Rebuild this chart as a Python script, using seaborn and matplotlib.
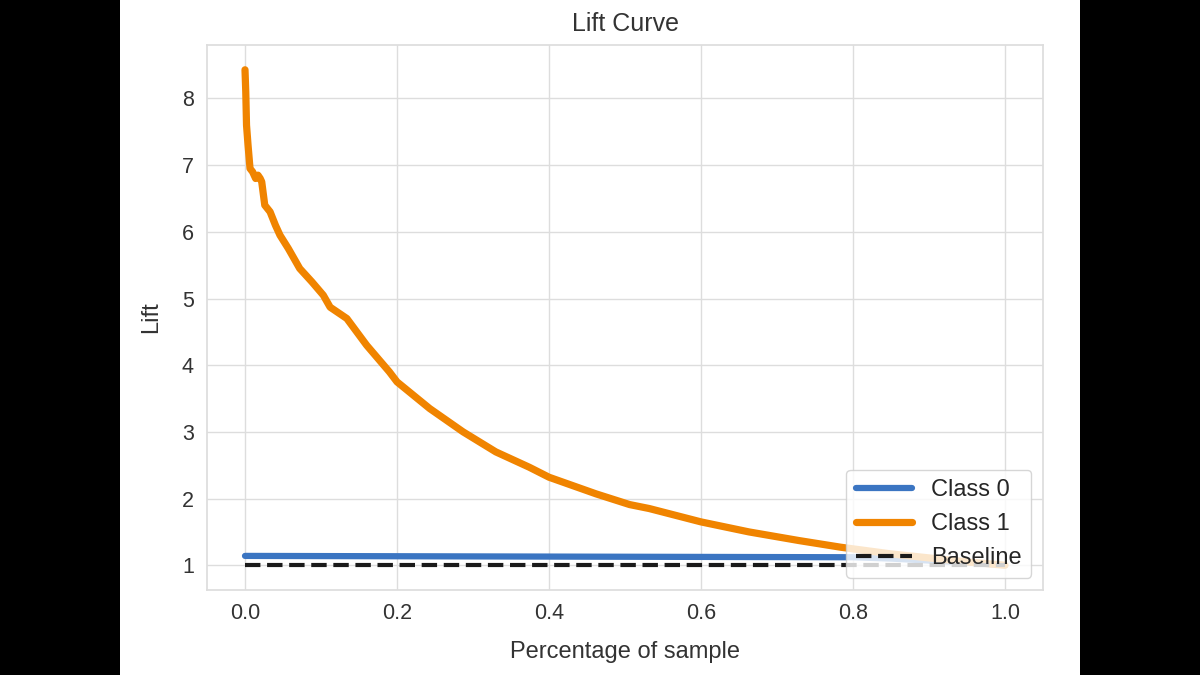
import numpy as np
import pandas as pd
import matplotlib
matplotlib.use("Agg")
import matplotlib.pyplot as plt
from matplotlib.patches import Rectangle
import seaborn as sns

# ------------------ Data ------------------
class1_x = [0.0, 0.001, 0.002, 0.004, 0.0066, 0.01, 0.014, 0.017, 0.02, 0.022,
            0.026, 0.033, 0.04, 0.046, 0.057, 0.072, 0.088, 0.103, 0.112, 0.134,
            0.16, 0.19, 0.2, 0.243, 0.287, 0.33, 0.374, 0.40, 0.462, 0.506,
            0.532, 0.60, 0.663, 0.729, 0.784, 0.85, 0.9, 0.95, 1.0]
class1_lift = [8.43, 8.1, 7.6, 7.3, 6.95, 6.9, 6.8, 6.85, 6.8, 6.75,
               6.4, 6.3, 6.1, 5.95, 5.75, 5.45, 5.25, 5.05, 4.87, 4.70,
               4.30, 3.90, 3.75, 3.35, 3.0, 2.70, 2.47, 2.32, 2.07, 1.91,
               1.85, 1.65, 1.50, 1.37, 1.27, 1.17, 1.11, 1.05, 1.0]

class0_x = [0.0, 0.2, 0.4, 0.6, 0.8, 0.85, 0.9, 0.95, 1.0]
class0_lift = [1.14, 1.135, 1.13, 1.125, 1.12, 1.1, 1.07, 1.04, 1.0]

baseline_x = [0.0, 1.0]
baseline_lift = [1.0, 1.0]

# ------------------ Plot ------------------
sns.set_theme(style="whitegrid", rc={'grid.color': '#dddddd', 'axes.edgecolor': '#dddddd'})
plt.rcParams['font.family'] = ['Liberation Sans', 'DejaVu Sans']

fig = plt.figure(figsize=(12, 6.75), dpi=100)
fig.patch.set_facecolor('black')
fig.patches.append(Rectangle((0.1, 0), 0.8, 1, transform=fig.transFigure,
                             facecolor='white', edgecolor='none', zorder=-10))

ax = fig.add_axes([0.1725, 0.1259, 0.6967, 0.8074])

df0 = pd.DataFrame({'x': class0_x, 'lift': class0_lift})
df1 = pd.DataFrame({'x': class1_x, 'lift': class1_lift})

sns.lineplot(data=df0, x='x', y='lift', ax=ax, color='#3b75c2', lw=4.5, label='Class 0')
sns.lineplot(data=df1, x='x', y='lift', ax=ax, color='#f08400', lw=5.2, label='Class 1')
ax.plot(baseline_x, baseline_lift, 'k--', lw=3, label='Baseline')

ax.set_title('Lift Curve', fontsize=18, color='#333333', pad=10)
ax.set_xlabel('Percentage of sample', fontsize=17, color='#333333', labelpad=12)
ax.set_ylabel('Lift', fontsize=17, color='#333333', labelpad=14)
ax.tick_params(axis='both', labelsize=15.5, colors='#333333')
ax.set_xticks([0.0, 0.2, 0.4, 0.6, 0.8, 1.0])
ax.set_yticks([1, 2, 3, 4, 5, 6, 7, 8])
ax.legend(loc='lower right', fontsize=17, handlelength=2.4)

plt.savefig("out.png", dpi=100, facecolor=fig.get_facecolor())
plt.close()
